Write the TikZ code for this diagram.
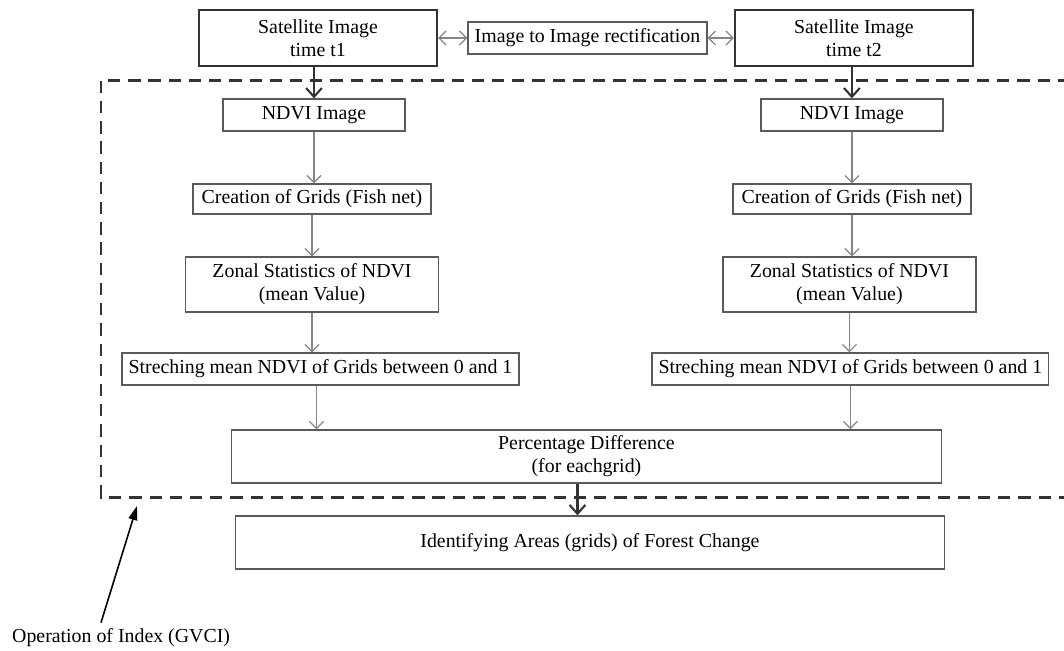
\documentclass[tikz,border=0pt]{standalone}
\usepackage{fontspec}
\setmainfont{Liberation Serif}
\usetikzlibrary{arrows.meta}
\definecolor{EdgeDark}{HTML}{333333}
\definecolor{EdgeGray}{HTML}{5A5A5A}
\definecolor{ArrowGray}{HTML}{858585}

\begin{document}
\begin{tikzpicture}[x=0.02cm, y=-0.02cm, node distance=1.7cm,
  every node/.style={font=\fontsize{11.3}{13.2}\selectfont}]
  \useasboundingbox (0,0) rectangle (1064,650);
  \tikzstyle{satbox}=[rectangle, draw=EdgeDark, line width=1.3pt, minimum width=4.76cm,
  minimum height=1.12cm, align=center, inner sep=1pt]
  \tikzstyle{procbox}=[rectangle, draw=EdgeGray, line width=0.7pt, align=center, inner sep=1pt]
  \tikzstyle{flow}=[-{Straight Barb[length=4pt, width=8pt]}, line width=0.7pt, color=ArrowGray]
  \tikzstyle{mainflow}=[-{Straight Barb[length=5pt, width=9pt]}, line width=1.2pt, color=EdgeDark]
  \tikzstyle{link}=[{Straight Barb[length=4pt, width=8pt]}-{Straight Barb[length=4pt, width=8pt]}, line width=0.7pt, color=ArrowGray]
  % dashed frame of the index
  \draw[EdgeDark, line width=1.7pt, dash pattern=on 7pt off 4.5pt]
    (1070,80) -- (101,80) -- (101,497) -- (1070,497);
  \node[satbox] (sat1) at (318,38) {Satellite Image\\time t1};
  \node[satbox, node distance=10.72cm, right of=sat1] (sat2) {Satellite Image\\time t2};
  \node[procbox, node distance=5.39cm, right of=sat1, minimum width=4.78cm, minimum height=0.64cm] (rect) {Image to Image rectification};
  % left column
  \node[procbox, node distance=1.54cm, below of=sat1, xshift=-0.08cm, minimum width=3.64cm, minimum height=0.64cm] (ndvi1) {NDVI Image};
  \node[procbox, node distance=1.68cm, below of=ndvi1, xshift=-0.04cm, minimum width=4.76cm, minimum height=0.6cm] (grid1) {Creation of Grids (Fish net)};
  \node[procbox, node distance=1.71cm, below of=grid1, minimum width=5.06cm, minimum height=1.1cm] (zonal1) {Zonal Statistics of NDVI\\(mean Value)};
  \node[procbox, node distance=1.69cm, below of=zonal1, xshift=0.17cm, minimum width=7.94cm, minimum height=0.64cm] (stretch1) {Streching mean NDVI of Grids between 0 and 1};
  % right column
  \node[procbox, node distance=10.76cm, right of=ndvi1, minimum width=3.64cm, minimum height=0.64cm] (ndvi2) {NDVI Image};
  \node[procbox, node distance=10.8cm, right of=grid1, minimum width=4.76cm, minimum height=0.6cm] (grid2) {Creation of Grids (Fish net)};
  \node[procbox, node distance=10.75cm, right of=zonal1, minimum width=5.06cm, minimum height=1.1cm] (zonal2) {Zonal Statistics of NDVI\\(mean Value)};
  \node[procbox, node distance=10.6cm, right of=stretch1, minimum width=7.94cm, minimum height=0.64cm] (stretch2) {Streching mean NDVI of Grids between 0 and 1};
  % bottom
  \node[procbox, node distance=1.75cm, below of=stretch1, xshift=5.32cm, minimum width=14.2cm, minimum height=1.06cm] (perc) {Percentage Difference\\(for eachgrid)};
  \node[procbox, node distance=1.72cm, below of=perc, xshift=0.07cm, minimum width=14.18cm, minimum height=1.06cm] (ident) {Identifying Areas (grids) of Forest Change};
  \node[anchor=west] (opindex) at (6,638) {Operation of Index (GVCI)};
  \coordinate (framecorner) at (137,506);
  \draw[link] (sat1.east |- rect.west) -- (rect.west);
  \draw[link] (rect.east) -- (rect.east -| sat2.west);
  \draw[mainflow] (sat1.south -| ndvi1) -- (ndvi1.north);
  \draw[mainflow] (sat2.south -| ndvi2) -- (ndvi2.north);
  \draw[flow] (ndvi1.south) -- (ndvi1.south |- grid1.north);
  \draw[flow] (grid1.south) -- (grid1.south |- zonal1.north);
  \draw[flow] (zonal1.south) -- (zonal1.south |- stretch1.north);
  \draw[flow] (ndvi2.south) -- (ndvi2.south |- grid2.north);
  \draw[flow] (grid2.south) -- (grid2.south |- zonal2.north);
  \draw[flow] (zonal2.south) -- (zonal2.south |- stretch2.north);
  \draw[flow] ([xshift=-0.08cm]stretch1.south) -- ([xshift=-0.08cm]stretch1.south |- perc.north);
  \draw[flow] (stretch2.south) -- (stretch2.south |- perc.north);
  \draw[mainflow] ([xshift=-0.18cm]perc.south) -- ([xshift=-0.18cm]perc.south |- ident.north);
  \draw[-{Triangle[length=8pt, width=5pt]}, line width=0.9pt, color=black] ([xshift=1.9cm]opindex.north west) -- (framecorner);
\end{tikzpicture}
\end{document}
